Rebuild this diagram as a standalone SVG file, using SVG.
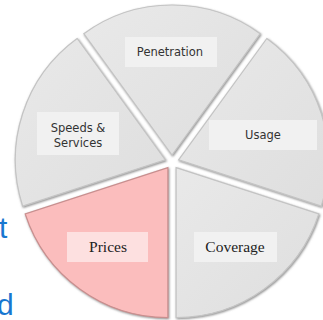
<svg xmlns="http://www.w3.org/2000/svg" width="323" height="320" viewBox="0 0 323 320">
<defs>
<filter id="sh" x="-10%" y="-10%" width="120%" height="120%">
<feDropShadow dx="0.8" dy="1" stdDeviation="0.9" flood-color="#6e6e6e" flood-opacity="0.8"/>
</filter>
<linearGradient id="gg" x1="0" y1="0" x2="1" y2="1">
<stop offset="0" stop-color="#e9e9e9"/>
<stop offset="1" stop-color="#dedede"/>
</linearGradient>
</defs>
<style>
.slice{fill:url(#gg);stroke:#c4c4c4;stroke-width:1.2;filter:url(#sh)}
.hl{fill:none;stroke:#ffffff;stroke-width:1.5;stroke-opacity:0.9}
.pink{fill:#fbbdbd;stroke:#c98f8f;stroke-width:1.2;filter:url(#sh)}
.box{fill:#f1f1f1}
.pbox{fill:#fde0e0}
.sans{font-family:"DejaVu Sans",sans-serif;font-size:11.5px;fill:#333;text-anchor:middle}
.serif{font-family:"Liberation Serif",serif;font-size:15.5px;fill:#222;text-anchor:middle}
.blue{font-family:"Liberation Sans",Arial,sans-serif;font-size:30px;fill:#1877d0}
</style>
<rect width="323" height="320" fill="#ffffff"/>
<text class="blue" x="-1" y="238">t</text>
<text class="blue" x="-3" y="315">d</text>
<g id="penetration">
<path class="slice" d="M172,155 L83.83,33.65 A150,150 0 0 1 260.17,33.65 Z"/>
<rect class="box" x="125" y="37" width="92" height="30"/>
<text class="sans" x="170" y="56">Penetration</text>
</g>
<g id="usage">
<path class="slice" d="M178.66,159.84 L266.83,38.49 A150,150 0 0 1 321.32,206.19 Z"/>
<rect class="box" x="209" y="120" width="108" height="30"/>
<text class="sans" x="263" y="139">Usage</text>
</g>
<g id="coverage">
<path class="slice" d="M176.11,167.66 L318.77,214.01 A150,150 0 0 1 176.11,317.66 Z"/>
<rect class="box" x="194" y="232" width="83" height="30"/>
<text class="serif" x="235" y="252">Coverage</text>
</g>
<g id="prices">
<path class="pink" d="M167.89,167.66 L167.89,317.66 A150,150 0 0 1 25.23,214.01 Z"/>
<rect class="pbox" x="67" y="232" width="81" height="30"/>
<text class="serif" x="108" y="252">Prices</text>
</g>
<g id="speeds">
<path class="slice" d="M165.34,159.84 L22.68,206.19 A150,150 0 0 1 77.17,38.49 Z"/>
<rect class="box" x="37" y="112" width="82" height="43"/>
<text class="sans" x="78" y="132">Speeds &amp;</text>
<text class="sans" x="78" y="147">Services</text>
</g>
<g id="connectors"></g>
</svg>
